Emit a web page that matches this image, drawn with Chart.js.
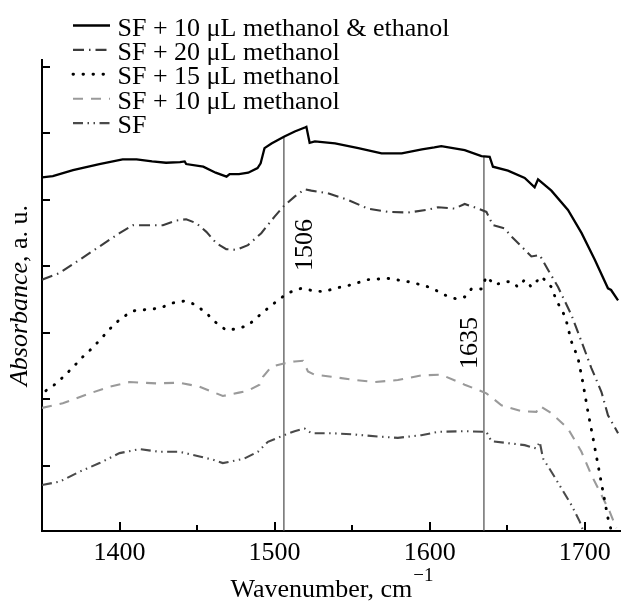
<!DOCTYPE html>
<html><head><meta charset="utf-8">
<script src="https://cdn.jsdelivr.net/npm/chart.js@4.4.0/dist/chart.umd.min.js"></script>
<style>html,body{margin:0;padding:0;background:#fff;}</style>
</head><body>
<canvas id="c" width="621" height="601"></canvas>
<script>
// ---------- data ----------
const seriesNames = [
  'SF + 10 \u03bcL methanol & ethanol',
  'SF + 20 \u03bcL methanol',
  'SF + 15 \u03bcL methanol',
  'SF + 10 \u03bcL methanol',
  'SF'
];
const mixWn  = [1350,1357,1370,1387,1402,1411,1421,1430,1439,1442,1443,1454,1462,1469,1471,1477,1483,1489,1491,1493.5,1498,1506,1513,1519.5,1520.5,1522.6,1526,1539,1554,1569,1582,1595,1603,1607.5,1622.6,1633.4,1638.7,1640.8,1650.5,1661.3,1667.7,1669.9,1678.5,1689.2,1698,1706.5,1715,1717,1721.5];
const mixAbs = [5.34,5.36,5.45,5.54,5.61,5.61,5.58,5.56,5.57,5.58,5.54,5.50,5.41,5.35,5.39,5.39,5.41,5.48,5.55,5.78,5.85,5.95,6.03,6.09,6.10,5.86,5.88,5.85,5.78,5.70,5.70,5.76,5.79,5.81,5.75,5.66,5.65,5.50,5.44,5.33,5.19,5.31,5.14,4.85,4.50,4.10,3.67,3.645,3.49];

const m20Wn  = [1350,1361.3,1374.2,1387.1,1400,1408.6,1419.4,1428,1436.6,1443,1449.5,1456,1462.4,1468.8,1475.3,1482.8,1491.4,1500,1506,1512.9,1519.4,1523.7,1534.4,1547.3,1560.2,1573.1,1586,1598,1605.4,1616.1,1622.6,1631.2,1636.6,1640.8,1648.4,1652.7,1659.2,1665.6,1671,1676.3,1682.8,1691.4,1697.9,1704.3,1710.8,1715,1721.5];
const m20Abs = [3.80,3.90,4.10,4.30,4.50,4.62,4.62,4.62,4.69,4.71,4.65,4.52,4.35,4.26,4.25,4.32,4.50,4.75,4.91,5.05,5.16,5.14,5.10,5.00,4.87,4.82,4.81,4.85,4.89,4.87,4.94,4.87,4.82,4.62,4.57,4.45,4.30,4.15,4.17,3.95,3.69,3.27,2.87,2.47,2.11,1.76,1.49];

const m15Wn  = [1352.5,1356.6,1363.4,1369.9,1375.9,1382.4,1388.4,1394.6,1401,1408.6,1417.2,1425.8,1434.4,1441.9,1448.4,1455.9,1461.3,1468.8,1475.3,1482.8,1488.5,1495.7,1502.1,1508.6,1517.2,1525.8,1532.3,1538.7,1547.3,1560.2,1573.1,1586,1597,1603.2,1609.7,1617.2,1622.6,1626.9,1633.4,1636.6,1641.9,1648.4,1652.7,1657,1661.3,1665.6,1672,1678.5,1681.7,1687.5,1691.4,1695.7,1698.9,1702.1,1705.4,1708.6,1711.8,1715,1717.2];
const m15Abs = [2.13,2.19,2.33,2.48,2.63,2.77,2.92,3.08,3.22,3.33,3.35,3.37,3.45,3.48,3.43,3.30,3.17,3.04,3.06,3.11,3.23,3.37,3.49,3.60,3.67,3.63,3.62,3.67,3.71,3.80,3.82,3.77,3.71,3.65,3.57,3.51,3.54,3.66,3.66,3.85,3.72,3.77,3.77,3.69,3.80,3.69,3.85,3.69,3.49,3.24,2.87,2.62,2.24,1.81,1.41,1.01,0.61,0.21,0.02];

const m10Wn  = [1350,1363.4,1378.5,1393.5,1406.5,1423.7,1438.7,1451.6,1466.6,1477,1482.8,1490.3,1492.5,1497.9,1506,1512.9,1518.3,1521.5,1525.8,1536.6,1551.6,1564.5,1579.5,1594.6,1607.5,1622.6,1636.6,1646.3,1659.2,1668.8,1671,1678.5,1689.2,1697.9,1704.3,1710.8,1716.1,1720.4];
const m10Abs = [1.87,1.94,2.07,2.19,2.26,2.24,2.25,2.19,2.05,2.10,2.13,2.22,2.34,2.49,2.54,2.57,2.58,2.42,2.37,2.34,2.29,2.26,2.29,2.36,2.37,2.22,2.09,1.91,1.82,1.81,1.90,1.79,1.56,1.21,0.86,0.56,0.31,0.06];

const sfWn  = [1350,1361.3,1374.2,1387.1,1400,1412.9,1425.8,1438.7,1451.6,1460.2,1466.6,1477,1480.6,1489.2,1495.7,1506,1512.9,1519.4,1523.7,1536.6,1551.6,1566.6,1579.5,1594.6,1605.4,1622.6,1636.6,1639.8,1650.5,1661.3,1668.8,1671,1673.1,1678.5,1685,1691.4,1696.8,1698.9];
const sfAbs = [0.71,0.76,0.91,1.04,1.19,1.25,1.21,1.21,1.14,1.09,1.04,1.09,1.11,1.21,1.36,1.46,1.52,1.56,1.49,1.49,1.47,1.44,1.42,1.46,1.51,1.52,1.51,1.37,1.34,1.31,1.26,1.36,1.11,0.91,0.66,0.41,0.16,0.03];

const markWn = [1506, 1635];           // marked bands
const xTicks = [1400,1450,1500,1550,1600,1650,1700];
const yTicks = [1,2,3,4,5,6,7];
const xMin = 1350, xMax = 1723.4, yMin = 0.018, yMax = 7.106;

// ---------- helpers ----------
const pts = (w, a) => w.map((x, i) => ({x, y: a[i]}));
function interp(w, a, x) {
  for (let i = 0; i < w.length - 1; i++) {
    if (x >= w[i] && x <= w[i+1]) return a[i] + (a[i+1]-a[i])*(x-w[i])/(w[i+1]-w[i]);
  }
  return a[a.length-1];
}
const SERIF = "'Liberation Serif', 'Times New Roman', serif";
const FS = 26;

const styles = [
  {color:'#000000', width:2.3, dash:[], cap:'butt'},
  {color:'#3c3c3c', width:2.1, dash:[11,5,1.5,5], cap:'butt'},
  {color:'#000000', width:2.9, dash:[0.5,9.5], cap:'round'},
  {color:'#9a9a9a', width:2.1, dash:[10,8], cap:'butt'},
  {color:'#4a4a4a', width:2.1, dash:[10,4.5,1.5,4.5,1.5,4.5], cap:'butt'}
];
const seriesData = [pts(mixWn,mixAbs), pts(m20Wn,m20Abs), pts(m15Wn,m15Abs), pts(m10Wn,m10Abs), pts(sfWn,sfAbs)];

const datasets = seriesData.map((d, i) => ({
  label: seriesNames[i], data: d,
  borderColor: styles[i].color, borderWidth: styles[i].width,
  borderDash: styles[i].dash, borderCapStyle: styles[i].cap,
  pointRadius: 0, tension: 0, fill: false
}));
markWn.forEach(w => datasets.push({
  label: 'mark ' + w,
  data: [{x: w, y: yMin}, {x: w, y: interp(mixWn, mixAbs, w)}],
  borderColor: '#4a4a4a', borderWidth: 1.2, pointRadius: 0, fill: false
}));

// ---------- decorations plugin ----------
const deco = {
  id: 'deco',
  beforeDraw(chart) {
    const c = chart.ctx; c.save(); c.fillStyle = '#fff'; c.fillRect(0,0,chart.width,chart.height); c.restore();
  },
  afterDraw(chart) {
    const c = chart.ctx, xs = chart.scales.x, ys = chart.scales.y, ca = chart.chartArea;
    c.save();
    c.strokeStyle = '#000'; c.lineWidth = 2; c.setLineDash([]);
    // inward ticks
    xTicks.forEach(t => {
      const px = Math.round(xs.getPixelForValue(t));
      const len = (t % 100 === 0) ? 9 : 6;
      c.beginPath(); c.moveTo(px, ca.bottom); c.lineTo(px, ca.bottom - len); c.stroke();
    });
    yTicks.forEach(t => {
      const py = Math.round(ys.getPixelForValue(t));
      c.beginPath(); c.moveTo(ca.left, py); c.lineTo(ca.left + 8, py); c.stroke();
    });
    // legend
    c.textBaseline = 'alphabetic'; c.textAlign = 'left';
    c.font = FS + 'px ' + SERIF;
    seriesNames.forEach((name, i) => {
      const base = 35.5 + i * 24.4;
      const ly = base - 10;
      c.save();
      c.strokeStyle = styles[i].color; c.lineWidth = styles[i].width;
      c.setLineDash(styles[i].dash); c.lineCap = styles[i].cap;
      c.beginPath(); c.moveTo(73, ly); c.lineTo(110, ly); c.stroke();
      c.restore();
      c.fillStyle = '#000';
      c.fillText(name, 117.5, base);
    });
    // band labels
    c.fillStyle = '#000';
    const drawRot = (txt, x, y) => { c.save(); c.translate(x, y); c.rotate(-Math.PI/2); c.fillText(txt, 0, 0); c.restore(); };
    drawRot(String(markWn[0]), xs.getPixelForValue(markWn[0]) + 28, 271);
    drawRot(String(markWn[1]), xs.getPixelForValue(markWn[1]) - 6.5, 369);
    // y title: italic + regular
    c.save();
    const yt1 = 'Absorbance', yt2 = ', a. u.';
    c.font = 'italic ' + FS + 'px ' + SERIF; const w1 = c.measureText(yt1).width;
    c.font = FS + 'px ' + SERIF; const w2 = c.measureText(yt2).width;
    c.translate(27, (ca.top + ca.bottom) / 2 + (w1 + w2) / 2);
    c.rotate(-Math.PI/2);
    c.font = 'italic ' + FS + 'px ' + SERIF; c.fillText(yt1, 0, 0);
    c.font = FS + 'px ' + SERIF; c.fillText(yt2, w1, 0);
    c.restore();
    // x title with superscript
    const xt = 'Wavenumber, cm', sup = '\u22121';
    c.font = FS + 'px ' + SERIF; const wx = c.measureText(xt).width;
    c.font = '19px ' + SERIF; const ws = c.measureText(sup).width;
    const sx = (ca.left + ca.right) / 2 - (wx + ws) / 2;
    c.font = FS + 'px ' + SERIF; c.fillText(xt, sx, 596.5);
    c.font = '19px ' + SERIF; c.fillText(sup, sx + wx + 1, 581);
    c.restore();
  }
};

new Chart(document.getElementById('c'), {
  type: 'line',
  data: { datasets },
  plugins: [deco],
  options: {
    responsive: false, animation: false, devicePixelRatio: 1,
    layout: { padding: { top: 60, left: 0, right: 0, bottom: 0 } },
    plugins: { legend: { display: false }, tooltip: { enabled: false } },
    scales: {
      x: {
        type: 'linear', min: xMin, max: xMax,
        afterBuildTicks: s => { s.ticks = xTicks.map(v => ({value: v})); },
        afterFit: s => { s.height = 70; },
        grid: { display: false, drawTicks: false },
        border: { display: true, color: '#000', width: 2 },
        ticks: { padding: 7, color: '#000', font: { family: SERIF, size: FS },
                 maxRotation: 0, autoSkip: false,
                 callback: v => (v % 100 === 0 ? String(v) : '') }
      },
      y: {
        type: 'linear', min: yMin, max: yMax,
        afterBuildTicks: s => { s.ticks = yTicks.map(v => ({value: v})); },
        afterFit: s => { s.width = 42; },
        grid: { display: false, drawTicks: false },
        border: { display: true, color: '#000', width: 2 },
        ticks: { display: false }
      }
    }
  }
});
</script>
</body></html>
